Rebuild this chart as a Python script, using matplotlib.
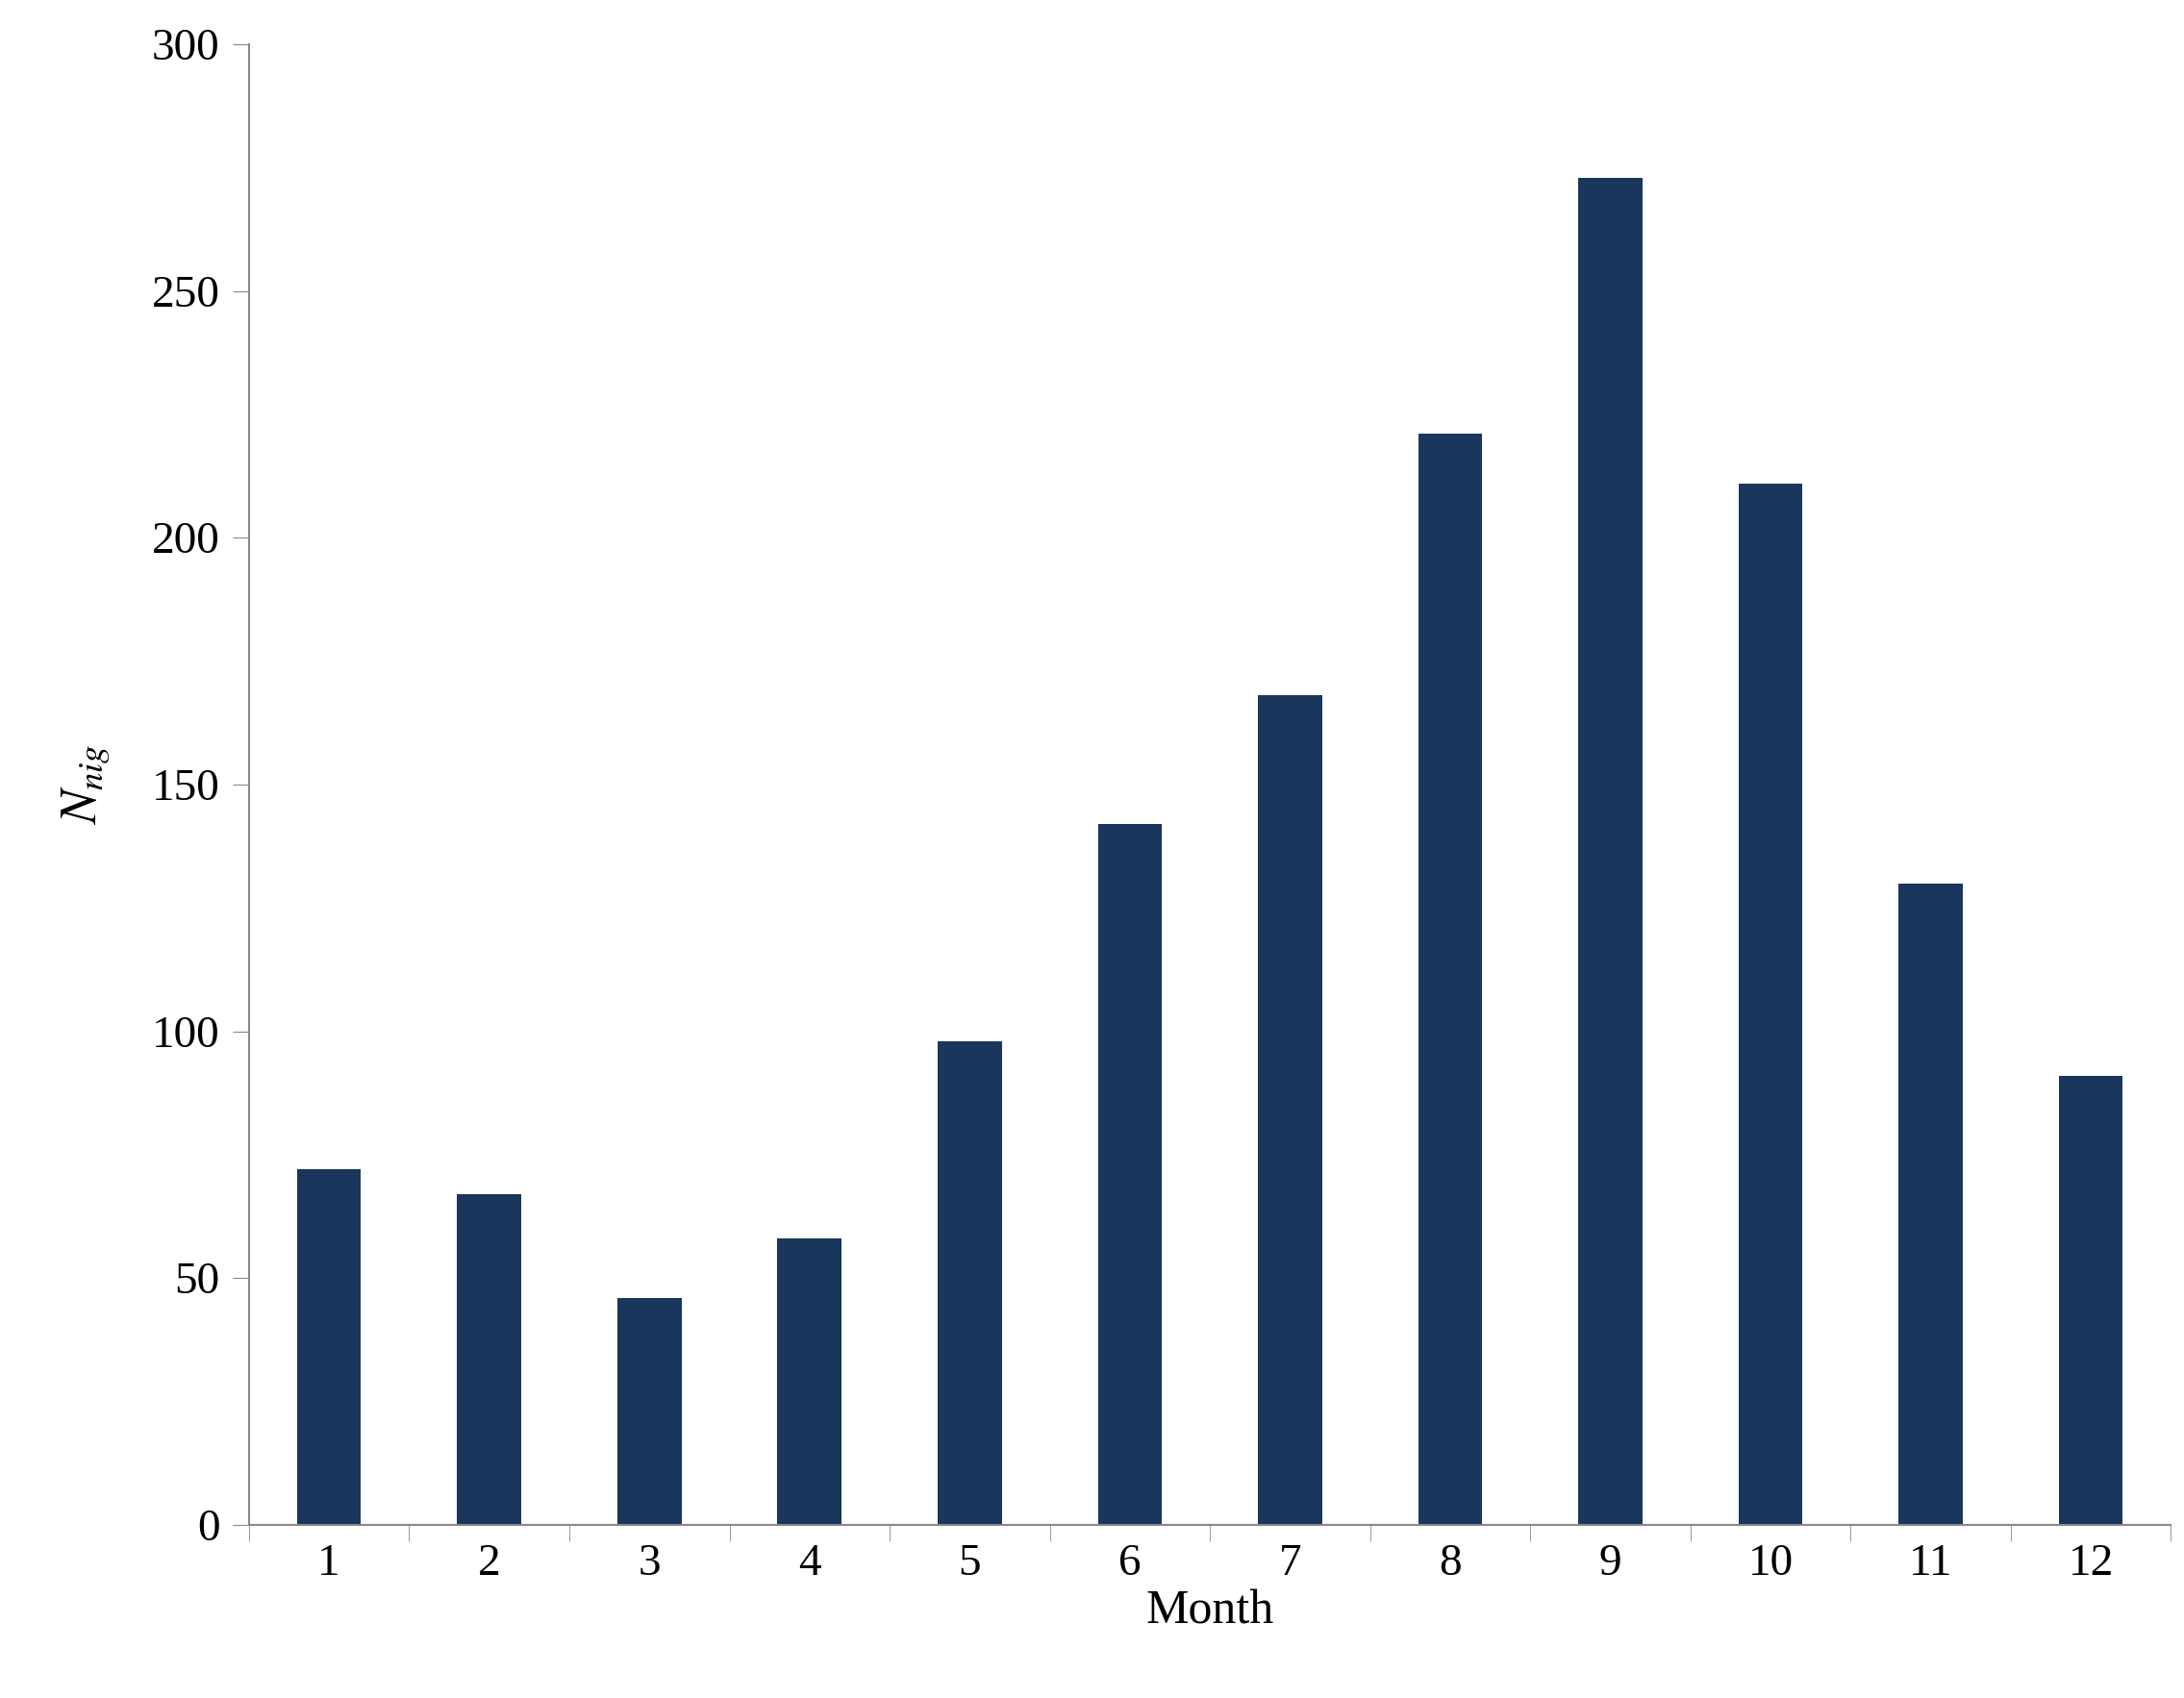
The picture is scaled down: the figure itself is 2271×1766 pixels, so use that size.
import matplotlib as mpl
mpl.use('Agg')
import matplotlib.pyplot as plt

months = [1, 2, 3, 4, 5, 6, 7, 8, 9, 10, 11, 12]
n_nig = [72, 67, 46, 58, 98, 142, 168, 221, 273, 211, 130, 91]
y_ticks = [0, 50, 100, 150, 200, 250, 300]

plt.rcParams['font.family'] = ['Liberation Serif', 'DejaVu Serif']
plt.rcParams['mathtext.fontset'] = 'stix'

fig = plt.figure(figsize=(22.71, 17.66), dpi=100)
ax = fig.add_axes([0.114, 0.102, 0.88, 0.872])

ax.bar(months, n_nig, width=0.4, color='#1a365d')

ax.set_xlim(0.5, 12.5)
ax.set_ylim(0, 300)
ax.set_yticks(y_ticks)
ax.set_xticks(months)
ax.set_xticks([m + 0.5 for m in [0] + months], minor=True)
ax.tick_params(axis='x', which='major', length=0, labelsize=34, pad=14)
ax.tick_params(axis='x', which='minor', length=12, direction='out', color='#888888')
ax.tick_params(axis='y', length=12, direction='out', color='#888888', labelsize=34, pad=10)

for s in ['top', 'right']:
    ax.spines[s].set_visible(False)
for s in ['left', 'bottom']:
    ax.spines[s].set_color('#888888')
    ax.spines[s].set_linewidth(1.5)

ax.set_xlabel('Month', fontsize=36, labelpad=4)
ax.set_ylabel(r'$N_{nig}$', fontsize=38, labelpad=30)

plt.savefig('out.png')
